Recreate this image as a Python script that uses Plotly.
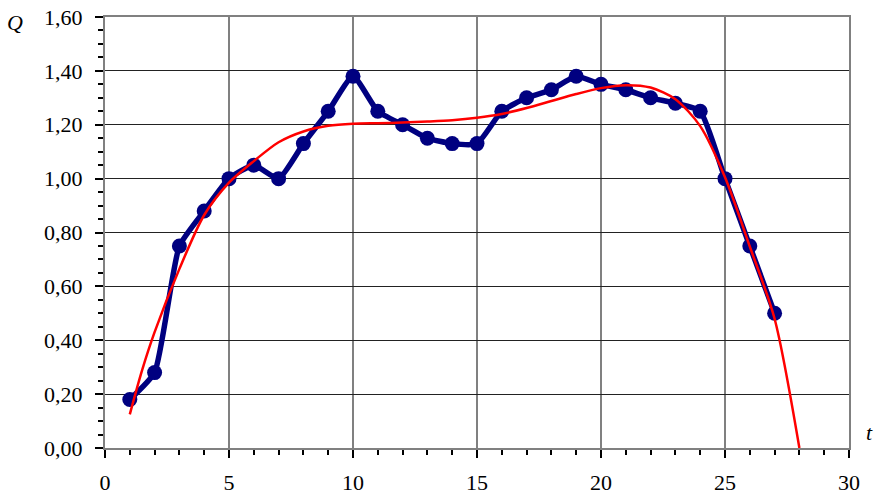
import plotly.graph_objects as go

# Observed series Q(t)
t_obs = list(range(1, 28))
q_obs = [0.18, 0.28, 0.75, 0.88, 1.00, 1.05, 1.00, 1.13, 1.25, 1.38,
         1.25, 1.20, 1.15, 1.13, 1.13, 1.25, 1.30, 1.33, 1.38, 1.35,
         1.33, 1.30, 1.28, 1.25, 1.00, 0.75, 0.50]

# Smooth trend curve
t_trend = [1, 1.5, 2, 3, 4, 5, 6, 7, 8, 9, 10, 11, 12, 13, 14, 15, 16, 17, 18,
           19, 20, 21, 22, 23, 24, 25, 26, 27, 28]
q_trend = [0.125, 0.29, 0.43, 0.665, 0.865, 0.985, 1.065, 1.135, 1.175, 1.196,
           1.204, 1.206, 1.208, 1.212, 1.217, 1.226, 1.24, 1.262, 1.288, 1.314,
           1.336, 1.347, 1.338, 1.295, 1.195, 1.005, 0.748, 0.48, 0.0]

x_ticks = [0, 5, 10, 15, 20, 25, 30]
y_ticks = [0.0, 0.2, 0.4, 0.6, 0.8, 1.0, 1.2, 1.4, 1.6]

font_family = "Times New Roman"

fig = go.Figure()
fig.add_trace(go.Scatter(
    x=t_obs, y=q_obs, mode="lines+markers",
    line=dict(color="#000080", width=5.5, shape="spline", smoothing=0.5),
    marker=dict(color="#000080", size=15),
    showlegend=False, cliponaxis=False,
))
fig.add_trace(go.Scatter(
    x=t_trend, y=q_trend, mode="lines",
    line=dict(color="#ff0000", width=2.5, shape="spline", smoothing=0.8),
    showlegend=False,
))

fig.update_layout(
    width=875, height=496,
    margin=dict(l=105, r=26, t=17, b=48),
    paper_bgcolor="white", plot_bgcolor="white",
    separators=", ",
    font=dict(family=font_family, size=22, color="black"),
    xaxis=dict(
        range=[0, 30], tickvals=x_ticks, automargin=False,
        showgrid=True, gridcolor="#808080", gridwidth=2,
        showline=True, linecolor="#808080", linewidth=2, mirror=True,
        ticks="outside", ticklen=8, tickcolor="black", tickwidth=1.5,
        minor=dict(dtick=1, ticks="outside", ticklen=5, tickcolor="black",
                   showgrid=False),
        zeroline=False, ticklabelstandoff=6,
        tickfont=dict(family=font_family, size=22),
    ),
    yaxis=dict(
        range=[0, 1.6], tickvals=y_ticks, tickformat=".2f", automargin=False,
        showgrid=True, gridcolor="#222222", gridwidth=1,
        showline=True, linecolor="#808080", linewidth=2, mirror=True,
        ticks="outside", ticklen=8, tickcolor="black", tickwidth=1.5,
        minor=dict(dtick=0.05, ticks="outside", ticklen=5, tickcolor="black",
                   showgrid=False),
        zeroline=False, ticklabelstandoff=8,
        tickfont=dict(family=font_family, size=22),
    ),
    annotations=[
        dict(text="<i>Q</i>", xref="paper", yref="paper", x=-0.121, y=0.988,
             xanchor="center", yanchor="middle", showarrow=False,
             font=dict(family=font_family, size=22)),
        dict(text="<i>t</i>", xref="paper", yref="paper", x=1.028, y=0.035,
             xanchor="center", yanchor="middle", showarrow=False,
             font=dict(family=font_family, size=22)),
    ],
)

fig.write_html("out.html")
